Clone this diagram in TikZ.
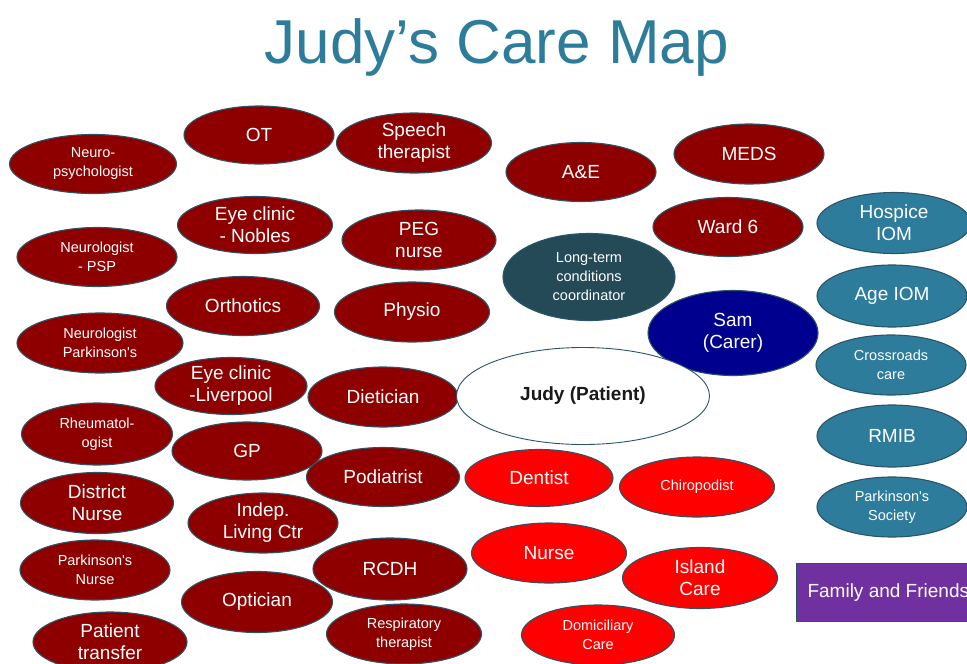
\documentclass[tikz,border=0pt]{standalone}
\usepackage{fontspec}
\setmainfont{Liberation Sans}
\usetikzlibrary{shapes.geometric}

\definecolor{deepred}{HTML}{8E0000}
\definecolor{brightred}{HTML}{FF0000}
\definecolor{seablue}{HTML}{2E7C9C}
\definecolor{slateteal}{HTML}{244A58}
\definecolor{carernavy}{HTML}{00008E}
\definecolor{famviolet}{HTML}{7030A0}
\definecolor{rimline}{HTML}{2B5566}

\newcommand\bigtxt{\fontsize{19}{22}\selectfont}
\newcommand\smalltxt{\fontsize{14.5}{19}\selectfont}

\tikzset{
  blob/.style={ellipse, draw=rimline, line width=1.1pt, inner sep=0pt,
               text=white, align=center, font=\bigtxt,
               minimum width=152pt, minimum height=60pt},
  small/.style={font=\smalltxt},
  service/.style={blob, fill=deepred},
  local/.style={blob, fill=brightred},
  charity/.style={blob, fill=seablue},
}

\begin{document}
\begin{tikzpicture}[x=1pt, y=-1pt]
  \clip (0,0) rectangle (967,664);
  \fill[white] (0,0) rectangle (967,664);

  % heading
  \node[anchor=base, text=seablue, font=\fontsize{62}{70}\selectfont, inner sep=0pt]
    (title) at (497,63) {Judy’s Care Map};

  % hospital and clinical services
  \node[service, small, minimum width=167pt, minimum height=59pt] (neuropsy) at (93,164) {Neuro-\\psychologist};
  \node[service, minimum width=150pt, minimum height=58pt] (ot) at (259,135) {OT};
  \node[service, minimum width=155pt] (speech) at (414,143) {Speech\\therapist};
  \node[service, minimum width=150pt, minimum height=59pt] (ae) at (581,172) {A\&E};
  \node[service, minimum width=150pt] (meds) at (749,154) {MEDS};
  \node[service, minimum width=155pt, minimum height=57pt] (eyenobles) at (255,225) {Eye clinic\\- Nobles};
  \node[service, small, minimum width=160pt, minimum height=59pt] (neuropsp) at (97,257) {Neurologist\\- PSP};
  \node[service, minimum width=154pt] (peg) at (419,240) {PEG\\nurse};
  \node[service, minimum width=150pt, minimum height=59pt] (ward) at (728,227) {Ward 6};
  \node[service, minimum width=153pt, minimum height=59pt] (orthotics) at (243,306) {Orthotics};
  \node[service, minimum width=155pt] (physio) at (412,312) {Physio};
  \node[service, small, minimum width=166pt] (neuropark) at (100,343) {Neurologist\\Parkinson\textquotesingle s};
  \node[service, minimum width=152pt, minimum height=57pt] (eyeliv) at (231,386) {Eye clinic\\-Liverpool};
  \node[service, minimum width=150pt] (dietician) at (383,397) {Dietician};
  \node[service, small, minimum width=151pt, minimum height=62pt] (rheum) at (97,434) {Rheumatol-\\ogist};
  \node[service, minimum width=150pt, minimum height=58pt] (gp) at (247,451) {GP};
  \node[service, minimum width=153pt, minimum height=59pt] (podiatrist) at (383,477) {Podiatrist};
  \node[service, minimum width=153pt, minimum height=61pt] (district) at (97,503) {District\\Nurse};
  \node[service, minimum width=150pt] (indep) at (263,523) {Indep.\\Living Ctr};
  \node[service, minimum width=154pt, minimum height=62pt] (rcdh) at (390,569) {RCDH};
  \node[service, small, minimum width=150pt] (parknurse) at (95,570) {Parkinson\textquotesingle s\\Nurse};
  \node[service, minimum width=151pt, minimum height=61pt] (optician) at (257,602) {Optician};
  \node[service, minimum width=154pt] (transfer) at (110,642) {Patient\\transfer};
  \node[service, small, minimum width=155pt] (resp) at (404,634) {Respiratory\\therapist};

  % coordinator and carer
  \node[blob, fill=slateteal, small, minimum width=172pt, minimum height=87pt] (ltc) at (589,277) {Long-term\\conditions\\coordinator};
  \node[blob, fill=carernavy, minimum width=170pt, minimum height=85pt] (sam) at (733,333) {Sam\\(Carer)};

  % the patient
  \node[ellipse, draw=rimline, line width=0.9pt, fill=white, inner sep=0pt,
        minimum width=253pt, minimum height=97pt, text=black!90,
        font=\bigtxt\bfseries] (judy) at (583,396) {Judy (Patient)};

  % community services
  \node[local, minimum width=148pt, minimum height=57pt] (dentist) at (539,478) {Dentist};
  \node[local, small, minimum width=155pt] (chiro) at (697,487) {Chiropodist};
  \node[local, minimum width=155pt] (nurse) at (549,553) {Nurse};
  \node[local, minimum width=155pt, minimum height=61pt] (island) at (700,578) {Island\\Care};
  \node[local, small, minimum width=153pt] (domic) at (598,635) {Domiciliary\\Care};

  % voluntary sector
  \node[charity, minimum width=154pt, minimum height=61pt] (hospice) at (894,223) {Hospice\\IOM};
  \node[charity, minimum width=150pt, minimum height=62pt] (age) at (892,296) {Age IOM};
  \node[charity, small, minimum width=150pt] (crossroads) at (891,365) {Crossroads\\care};
  \node[charity, minimum width=150pt, minimum height=62pt] (rmib) at (892,436) {RMIB};
  \node[charity, small, minimum width=150pt] (parksoc) at (892,507) {Parkinson\textquotesingle s\\Society};

  % family
  \node[draw=rimline, line width=1.1pt, fill=famviolet, text=white, font=\bigtxt,
        anchor=north west, inner xsep=11pt, minimum height=58pt]
    (family) at (796,563) {Family and Friends};
\end{tikzpicture}
\end{document}
